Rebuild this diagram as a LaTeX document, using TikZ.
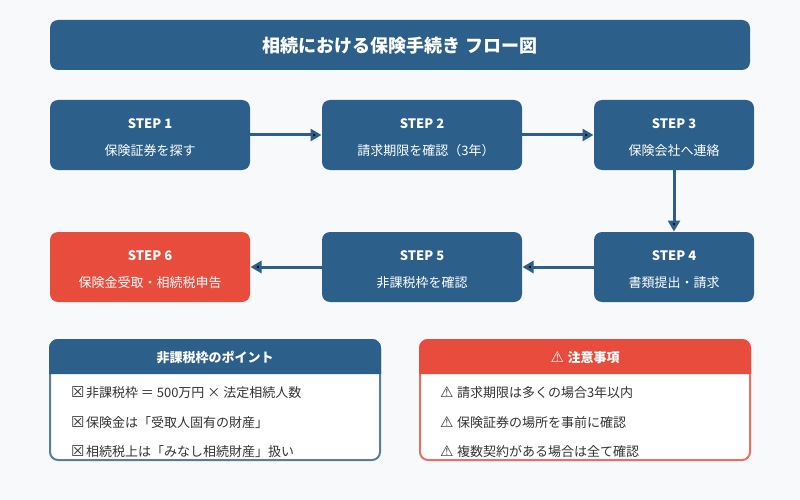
\documentclass[tikz,border=0pt]{standalone}
\usepackage{fontspec}
\setmainfont{Noto Sans CJK JP}
\newfontfamily\symfont{DejaVu Sans}
\usetikzlibrary{positioning,arrows.meta}
\definecolor{stepblue}{HTML}{2C5F8A}
\definecolor{stepred}{HTML}{E74C3C}
\definecolor{pagebg}{HTML}{F8F9FA}
\definecolor{itemtext}{HTML}{333333}
\tikzset{
  every node/.style={outer sep=0pt},
  titlebox/.style={fill=stepblue,rounded corners=8pt,minimum width=700pt,minimum height=50pt,text=white,text height=17pt,font=\fontsize{18}{22}\selectfont\bfseries,inner sep=0pt},
  stepbox/.style={fill=stepblue,rounded corners=8pt,minimum width=200pt,minimum height=70pt,text=white,align=center,font=\fontsize{13}{27}\selectfont,inner sep=0pt},
  flow/.style={draw=stepblue,line width=3pt,-{Triangle[length=11pt,width=12pt]},shorten >=0.5pt},
  panel/.style={fill=white,rounded corners=8pt,line width=2pt,draw opacity=0.8,minimum width=330pt,minimum height=120pt,inner sep=0pt},
  panelhead/.style={text=white,font=\fontsize{13}{16}\selectfont\bfseries,inner sep=0pt},
  item/.style={text=itemtext,font=\fontsize{13}{16}\selectfont,inner sep=0pt,anchor=west},
}
\newcommand{\steplabel}[1]{\rule{0pt}{15pt}\textbf{STEP #1}}
\newcommand{\boxmark}{\makebox[15pt][l]{\fontsize{15}{16}\symfont ☒}}
\newcommand{\warnmark}{\makebox[17pt][l]{\fontsize{15}{16}\symfont ⚠}}
\begin{document}
\begin{tikzpicture}[x=1pt,y=1pt,node distance=72pt]
\useasboundingbox[fill=pagebg] (0,0) rectangle (800,-500);
\node[titlebox] (title) at (400,-45) {相続における保険手続き フロー図};
\node[stepbox] (step1) at (150,-135) {\steplabel{1}\\保険証券を探す};
\node[stepbox] (step2) [right=of step1] {\steplabel{2}\\請求期限を確認（3年）\kern-8pt};
\node[stepbox,minimum width=160pt] (step3) [right=of step2] {\steplabel{3}\\保険会社へ連絡};
\node[stepbox,minimum width=160pt] (step4) [below=62pt of step3] {\steplabel{4}\\書類提出・請求};
\node[stepbox] (step5) [left=of step4] {\steplabel{5}\\非課税枠を確認};
\node[stepbox,fill=stepred] (step6) [left=of step5] {\steplabel{6}\\保険金受取・相続税申告};
\path[flow]
(step1) edge (step2)
(step2) edge (step3)
(step3) edge (step4)
(step4) edge (step5)
(step5) edge (step6);
% left panel
\node[panel,draw=stepblue] (points) at (215,-400) {};
\fill[stepblue] (49,-374) [rounded corners=9pt] -- (49,-339) -- (381,-339) [sharp corners] -- (381,-374) -- cycle;
\node[panelhead] (pointshead) at (215,-358) {非課税枠のポイント};
\begin{scope}
\clip (51,-374) rectangle (379,-458.5);
\node[item] (point1) at (71,-393) {\boxmark 非課税枠 ＝ 500万円 × 法定相続人数};
\node[item] (point2) at (71,-423) {\boxmark 保険金は「受取人固有の財産」};
\node[item] (point3) at (71,-452) {\boxmark 相続税上は「みなし相続財産」扱い};
\end{scope}
% right panel
\node[panel,draw=stepred] (notes) at (585,-400) {};
\fill[stepred] (419,-374) [rounded corners=9pt] -- (419,-339) -- (751,-339) [sharp corners] -- (751,-374) -- cycle;
\node[panelhead] (noteshead) at (585,-358) {\warnmark 注意事項};
\begin{scope}
\clip (421,-374) rectangle (749,-458.5);
\node[item] (note1) at (440,-393) {\warnmark 請求期限は多くの場合3年以内};
\node[item] (note2) at (440,-423) {\warnmark 保険証券の場所を事前に確認};
\node[item] (note3) at (440,-452) {\warnmark 複数契約がある場合は全て確認};
\end{scope}
\end{tikzpicture}
\end{document}
